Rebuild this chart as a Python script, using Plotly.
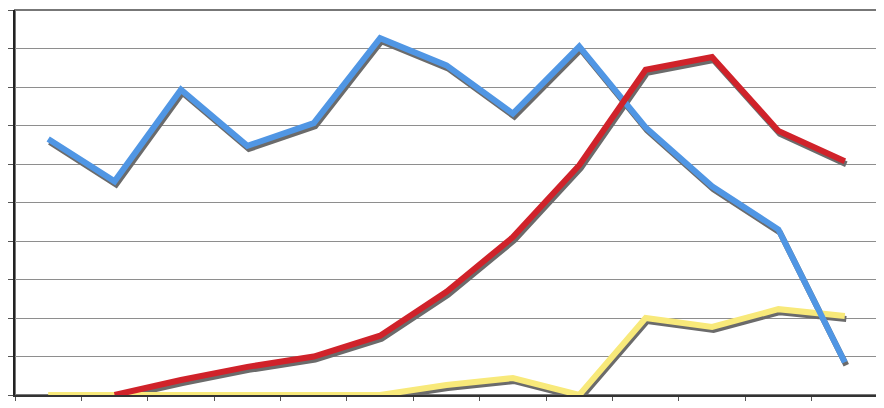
import plotly.graph_objects as go

# 13 periods, no labels shown on the original chart
periods = list(range(13))

blue_vals = [6.65, 5.55, 7.93, 6.47, 7.06, 9.27, 8.56, 7.31, 9.05, 6.95, 5.42, 4.30, 0.85]
red_vals = [None, 0.0, 0.39, 0.73, 1.0, 1.54, 2.68, 4.1, 5.97, 8.45, 8.78, 6.86, 6.07]
yellow_vals = [0, 0, 0, 0, 0, 0, 0.26, 0.44, 0.0, 2.0, 1.77, 2.23, 2.05]

# drawn in this order so red ends on top, as in the picture
series = [
    ("yellow", yellow_vals, "#f8e97a"),
    ("blue", blue_vals, "#5096e4"),
    ("red", red_vals, "#d0222a"),
]

plot_w, plot_h = 866, 385
x_rng = [-0.5, 12.5]
y_rng = [0, 10]
# shadow: a couple of pixels right and down -> main axes get a shifted range,
# the coloured lines sit on the overlaying axes (drawn above) with the true range
dx = 1.5 * (x_rng[1] - x_rng[0]) / plot_w
dy = 3.0 * (y_rng[1] - y_rng[0]) / plot_h

fig = go.Figure()

for name, vals, col in series:
    fig.add_trace(go.Scatter(
        x=periods, y=vals, mode="lines", name=name + " shadow",
        line=dict(color="#6b6b6b", width=6),
        hoverinfo="skip", showlegend=False,
    ))

for name, vals, col in series:
    fig.add_trace(go.Scatter(
        x=periods, y=vals, mode="lines", name=name,
        line=dict(color=col, width=6), xaxis="x2", yaxis="y2",
        showlegend=False,
    ))

edges = [i - 0.5 for i in range(14)]

# page body has an 8px margin, so the figure is a bit smaller than the window
fig.update_layout(
    width=876, height=400,
    margin=dict(l=4, r=6, t=2, b=13),
    paper_bgcolor="white", plot_bgcolor="white",
    xaxis=dict(range=[x_rng[0] - dx, x_rng[1] - dx], visible=False),
    yaxis=dict(range=[y_rng[0] + dy, y_rng[1] + dy], visible=False),
    xaxis2=dict(
        range=x_rng, overlaying="x", side="bottom",
        tickvals=edges, showticklabels=False,
        ticks="outside", ticklen=4, tickcolor="#555555",
        showgrid=False, zeroline=False,
        showline=True, linecolor="#333333", linewidth=2,
    ),
    yaxis2=dict(
        range=y_rng, overlaying="y", side="left",
        tickvals=list(range(11)), showticklabels=False,
        ticks="outside", ticklen=5, tickcolor="#555555",
        showgrid=True, gridcolor="#8e8e8e", gridwidth=1,
        zeroline=False,
        showline=True, linecolor="#222222", linewidth=2,
    ),
)

# top and right border of the plot area
fig.add_shape(type="rect", xref="paper", yref="paper", x0=0, y0=0, x1=1, y1=1,
              line=dict(color="#777777", width=2), layer="below")

fig.write_html("out.html")
